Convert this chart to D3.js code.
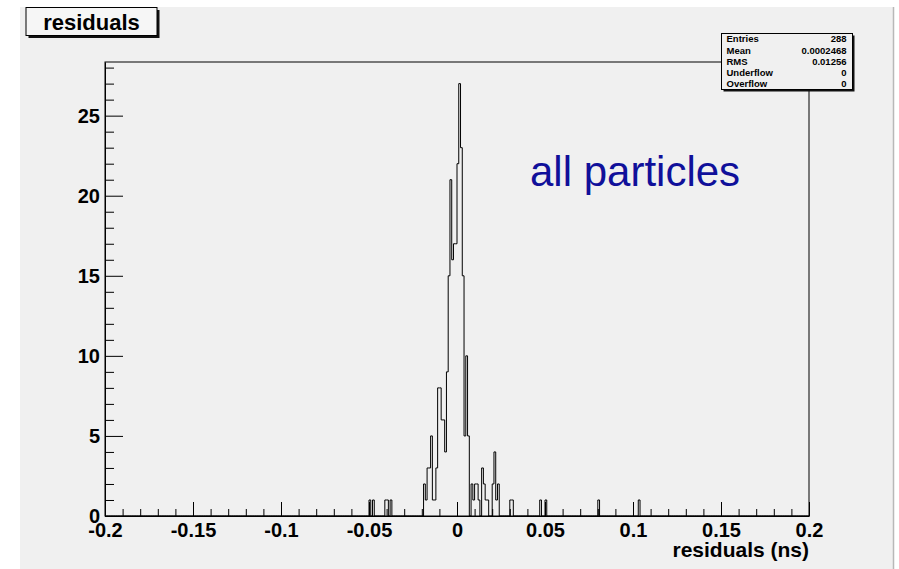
<!DOCTYPE html>
<html>
<head>
<meta charset="utf-8">
<script src="https://cdn.jsdelivr.net/npm/d3@7"></script>
<style>
  html, body { margin: 0; padding: 0; background: #ffffff; }
  svg { display: block; font-family: "Liberation Sans", Arial, Helvetica, sans-serif; }
</style>
</head>
<body>
<svg id="chart" width="899" height="569"></svg>
<script>
// Histogram definition: 400 bins of 0.001 ns between -0.2 and 0.2 ns
const binWidth = 0.001;
const xRange = [-0.2, 0.2];
const yMax = 28.35;

// Filled bins: lower edge (ns) and bin content
const binLow = [
  -0.050, -0.048, -0.041, -0.040, -0.038,
  -0.019, -0.018, -0.017, -0.016, -0.015, -0.014, -0.013, -0.012, -0.011, -0.010,
  -0.009, -0.008, -0.007, -0.006, -0.005, -0.004, -0.003, -0.002, -0.001,
  0.000, 0.001, 0.002, 0.003, 0.004, 0.005, 0.006,
  0.008, 0.009, 0.010, 0.011, 0.012, 0.014, 0.015, 0.016, 0.017,
  0.020, 0.021, 0.022, 0.023,
  0.030, 0.031, 0.047, 0.050, 0.080, 0.103
];
const binCount = [
  1, 1, 1, 1, 1,
  2, 1, 3, 3, 5, 1, 1, 3, 8, 8,
  6, 6, 4, 9, 15, 21, 16, 17, 17,
  22, 27, 23, 15, 5, 10, 5,
  2, 1, 2, 2, 1, 3, 2, 1, 1,
  2, 4, 1, 2,
  1, 1, 1, 1, 1, 1
];

const xTicks = [-0.2, -0.15, -0.1, -0.05, 0, 0.05, 0.1, 0.15, 0.2];
const yTicks = [0, 5, 10, 15, 20, 25];

const titleText = "residuals";
const xTitle = "residuals (ns)";
const annotation = "all particles";
const statNames = ["Entries", "Mean", "RMS", "Underflow", "Overflow"];
const statValues = ["288", "0.0002468", "0.01256", "0", "0"];

// ---- layout ----
const frame = { left: 105, right: 809, top: 62, bottom: 516 };
const svg = d3.select("#chart");

// canvas background
svg.append("rect")
  .attr("x", 20).attr("y", 7).attr("width", 873).attr("height", 562)
  .attr("fill", "#f0f0f0");
svg.append("line")
  .attr("x1", 893.5).attr("x2", 893.5).attr("y1", 7).attr("y2", 569)
  .attr("stroke", "#b8b8b8").attr("stroke-width", 1.5);

const x = d3.scaleLinear().domain(xRange).range([frame.left, frame.right]);
const y = d3.scaleLinear().domain([0, yMax]).range([frame.bottom, frame.top]);

// frame
svg.append("rect")
  .attr("x", frame.left).attr("y", frame.top)
  .attr("width", frame.right - frame.left).attr("height", frame.bottom - frame.top)
  .attr("fill", "none").attr("stroke", "#000").attr("stroke-width", 1);

// full bin contents
const nBins = Math.round((xRange[1] - xRange[0]) / binWidth);
const contents = new Array(nBins).fill(0);
binLow.forEach((lo, i) => {
  const idx = Math.round((lo - xRange[0]) / binWidth);
  contents[idx] += binCount[i];
});

// step outline of the histogram
const pts = [[xRange[0], 0]];
contents.forEach((c, i) => {
  const lo = xRange[0] + i * binWidth;
  pts.push([lo, c], [lo + binWidth, c]);
});
pts.push([xRange[1], 0]);

svg.append("path")
  .datum(pts)
  .attr("d", d3.line().x(d => x(d[0])).y(d => y(d[1])))
  .attr("fill", "none")
  .attr("stroke", "#000")
  .attr("stroke-width", 1);

// ---- axes ----
const fmt = d => String(+d.toFixed(3));

const xMinor = d3.range(-200, 201, 10).map(v => v / 1000)
  .filter(v => !xTicks.some(t => Math.abs(t - v) < 1e-9));
svg.append("g")
  .attr("transform", `translate(0,${frame.bottom})`)
  .call(d3.axisBottom(x).tickValues(xMinor).tickSize(-7).tickSizeOuter(0).tickFormat(""))
  .call(g => g.select(".domain").remove());

const xAxis = svg.append("g")
  .attr("transform", `translate(0,${frame.bottom})`)
  .call(d3.axisBottom(x).tickValues(xTicks).tickSize(-14).tickSizeOuter(0)
    .tickPadding(7).tickFormat(fmt));
xAxis.select(".domain").attr("stroke", "#000");
xAxis.selectAll("text")
  .attr("font-size", 20).attr("font-weight", "bold").attr("fill", "#000")
  .attr("font-family", "'Liberation Sans', Arial, sans-serif");

const yMinor = d3.range(0, 29, 1).filter(v => !yTicks.includes(v));
svg.append("g")
  .attr("transform", `translate(${frame.left},0)`)
  .call(d3.axisLeft(y).tickValues(yMinor).tickSize(-9).tickSizeOuter(0).tickFormat(""))
  .call(g => g.select(".domain").remove());

const yAxis = svg.append("g")
  .attr("transform", `translate(${frame.left},0)`)
  .call(d3.axisLeft(y).tickValues(yTicks).tickSize(-18).tickSizeOuter(0)
    .tickPadding(5).tickFormat(fmt));
yAxis.select(".domain").attr("stroke", "#000");
yAxis.selectAll("text")
  .attr("font-size", 20).attr("font-weight", "bold").attr("fill", "#000")
  .attr("font-family", "'Liberation Sans', Arial, sans-serif");

// x axis title
svg.append("text")
  .attr("x", frame.right).attr("y", 557)
  .attr("text-anchor", "end")
  .attr("font-size", 21).attr("font-weight", "bold")
  .text(xTitle);

// ---- title box ----
const tb = { x: 26, y: 7.5, w: 131, h: 28 };
svg.append("rect")
  .attr("x", tb.x + 2.5).attr("y", tb.y + 2.5).attr("width", tb.w).attr("height", tb.h)
  .attr("fill", "#111");
svg.append("rect")
  .attr("x", tb.x).attr("y", tb.y).attr("width", tb.w).attr("height", tb.h)
  .attr("fill", "#f6f6f6").attr("stroke", "#000").attr("stroke-width", 1);
svg.append("text")
  .attr("x", tb.x + tb.w / 2).attr("y", tb.y + 22)
  .attr("text-anchor", "middle")
  .attr("font-size", 22).attr("font-weight", "bold")
  .text(titleText);

// ---- statistics box ----
const sb = { x: 721.5, y: 33.5, w: 131, h: 56 };
svg.append("rect")
  .attr("x", sb.x + 2).attr("y", sb.y + 2).attr("width", sb.w).attr("height", sb.h)
  .attr("fill", "#111");
svg.append("rect")
  .attr("x", sb.x).attr("y", sb.y).attr("width", sb.w).attr("height", sb.h)
  .attr("fill", "#f0f0f0").attr("stroke", "#000").attr("stroke-width", 1);
const rowH = sb.h / statNames.length;
statNames.forEach((name, i) => {
  const yy = sb.y + rowH * (i + 0.5) + 3.3;
  svg.append("text")
    .attr("x", sb.x + 5).attr("y", yy)
    .attr("font-size", 9.5).attr("font-weight", "bold")
    .text(name);
  svg.append("text")
    .attr("x", sb.x + sb.w - 6).attr("y", yy)
    .attr("text-anchor", "end")
    .attr("font-size", 9.5).attr("font-weight", "bold")
    .text(statValues[i]);
});

// ---- annotation ----
svg.append("text")
  .attr("x", 530).attr("y", 186)
  .attr("font-size", 42)
  .attr("fill", "#10109a")
  .text(annotation);
</script>
</body>
</html>
